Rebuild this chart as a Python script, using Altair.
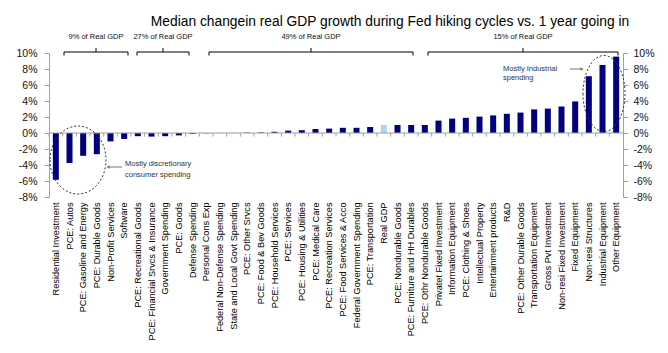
import altair as alt
import pandas as pd

categories = [
    "Residential Investment", "PCE: Autos", "PCE: Gasoline and Energy", "PCE: Durable Goods",
    "Non-Profit Services", "Software", "PCE: Recreational Goods", "PCE: Financial Srvcs & Insurance",
    "Government Spending", "PCE: Goods", "Defense Spending", "Personal Cons Exp",
    "Federal Non-Defense Spending", "State and Local Govt Spending", "PCE: Other Srvcs",
    "PCE: Food & Bev Goods", "PCE: Household Services", "PCE: Services", "PCE: Housing & Utilities",
    "PCE: Medical Care", "PCE: Recreation Services", "PCE: Food Services & Acco",
    "Federal Government Spending", "PCE: Transportation", "Real GDP", "PCE: Nondurable Goods",
    "PCE: Furniture and HH Durables", "PCE: Othr Nondurable Goods", "Privatet Fixed Investment",
    "Information Equipment", "PCE: Clothing & Shoes", "Intellectual Property",
    "Entertainment products", "R&D", "PCE: Other Durable Goods", "Transportation Equipment",
    "Gross Pvt Investment", "Non-resi Fixed Investment", "Fixed Equipment", "Non-resi Structures",
    "Industrial Equipment", "Other Equipment",
]
values = [
    -5.85, -3.75, -2.85, -2.65, -1.05, -0.75, -0.40, -0.45, -0.40, -0.30, -0.10, -0.03,
    0.01, 0.02, 0.05, 0.07, 0.15, 0.30, 0.35, 0.50, 0.55, 0.65, 0.65, 0.75, 1.00, 1.00,
    1.00, 1.00, 1.55, 1.80, 1.90, 2.05, 2.20, 2.40, 2.55, 2.95, 3.05, 3.30, 3.95, 7.10,
    8.50, 9.55,
]
highlight = ["Real GDP"]
y_ticks = [-8, -6, -4, -2, 0, 2, 4, 6, 8, 10]
title_text = "Median changein real GDP growth during Fed hiking cycles vs. 1 year going in"
bracket_labels = ["9% of Real GDP", "27% of Real GDP", "49% of Real GDP", "15% of Real GDP"]

df = pd.DataFrame({"cat": categories, "val": values})
df["grp"] = ["gdp" if c in highlight else "main" for c in categories]

W, H = 574, 144
FONT = "Liberation Sans"
GRAY = "#a0a0a0"

xscale = alt.Scale(paddingInner=0.56, paddingOuter=0.28)
yscale = alt.Scale(domain=[-8, 10], nice=False, zero=False)

axis_common = dict(values=y_ticks, labelExpr="datum.value + '%'", title=None, grid=False,
                   tickSize=5, domainColor=GRAY, tickColor=GRAY, labelFontSize=10.5,
                   labelFont=FONT, labelColor="#111")

bars = alt.Chart(df).mark_bar().encode(
    x=alt.X("cat:N", sort=categories, scale=xscale,
            axis=alt.Axis(orient="bottom", title=None, labelAngle=-90, ticks=False, domain=False,
                          labelFontSize=9.2, labelFont=FONT, labelColor="#000",
                          labelPadding=5, labelLimit=300, labelOverlap=False)),
    y=alt.Y("val:Q", scale=yscale, axis=alt.Axis(orient="left", labelPadding=7, **axis_common)),
    color=alt.Color("grp:N", scale=alt.Scale(domain=["main", "gdp"], range=["#000080", "#add8e6"]),
                    legend=None),
)

zero = alt.Chart(pd.DataFrame({"z": [0]})).mark_rule(color=GRAY, strokeWidth=1).encode(
    y=alt.Y("z:Q", scale=yscale, axis=alt.Axis(orient="right", labelPadding=5, **axis_common))
)

cat_ticks = alt.Chart(df).transform_calculate(z0="0", z1="-0.45").mark_rule(
    color=GRAY, strokeWidth=1, xOffset=-3.83
).encode(
    x=alt.X("cat:N", sort=categories, bandPosition=0, axis=None),
    y=alt.Y("z0:Q", axis=None),
    y2="z1:Q",
)

one = pd.DataFrame({"a": [0]})


def seg(x1, y1, x2, y2, color="#000", width=1):
    return alt.Chart(one).mark_rule(color=color, strokeWidth=width).encode(
        x=alt.value(x1), y=alt.value(y1), x2=alt.value(x2), y2=alt.value(y2))


def txt(x, y, s, size, align="center", color="#111", weight="normal"):
    return alt.Chart(one).mark_text(text=s, fontSize=size, align=align, baseline="middle",
                                    font=FONT, color=color, fontWeight=weight).encode(
        x=alt.value(x), y=alt.value(y))


def ellipse(cx, cy, rx, ry):
    a = rx / ry
    path = f"M {-a:.4f} 0 A {a:.4f} 1 0 1 0 {a:.4f} 0 A {a:.4f} 1 0 1 0 {-a:.4f} 0 Z"
    return alt.Chart(one).mark_point(shape=path, size=(2 * ry) ** 2, filled=False, color="#333",
                                     strokeDash=[2, 2], strokeWidth=1, opacity=1).encode(
        x=alt.value(cx), y=alt.value(cy))


layers = []
# brackets
yh, yd, yu = -1, 2.5, -5
for (x1, x2), lab in zip([(15, 79), (88, 140), (160, 364), (379, 569)], bracket_labels):
    c = (x1 + x2) / 2
    layers += [seg(x1, yh, x2, yh), seg(x1, yh, x1, yd), seg(x2, yh, x2, yd), seg(c, yh, c, yu)]
    layers.append(txt(c, -16, lab, 7.5))

# ellipses and notes
layers.append(ellipse(29, 107, 28, 34))
layers.append(ellipse(555, 40.5, 21, 38))
layers.append(seg(59, 114, 73, 114, color="#777"))
layers.append(alt.Chart(one).mark_point(shape="triangle-left", size=14, filled=True, color="#777",
                                        opacity=1).encode(x=alt.value(59), y=alt.value(114)))
layers.append(seg(521, 16, 533, 16, color="#777"))
layers.append(alt.Chart(one).mark_point(shape="triangle-right", size=14, filled=True, color="#777",
                                        opacity=1).encode(x=alt.value(533), y=alt.value(16)))
layers.append(txt(76, 111, "Mostly discretionary", 7.5, align="left", color="#333"))
layers.append(txt(76, 122, "consumer spending", 7.5, align="left", color="#333"))
layers.append(txt(454, 16, "Mostly Industrial", 7.5, align="left", color="#333"))
layers.append(txt(454, 25, "spending", 7.5, align="left", color="#333"))

# title
layers.append(txt(341, -31, title_text, 13.8, color="#000"))

chart = alt.layer(bars, zero, cat_ticks, *layers).resolve_axis(
    x="independent", y="independent"
).properties(
    width=W, height=H,
    autosize=alt.AutoSizeParams(type="none"),
    padding={"left": 49, "top": 53, "right": 45, "bottom": 156},
).configure_view(stroke=None)

chart.save("out.html", embed_options={"renderer": "svg", "actions": False})
